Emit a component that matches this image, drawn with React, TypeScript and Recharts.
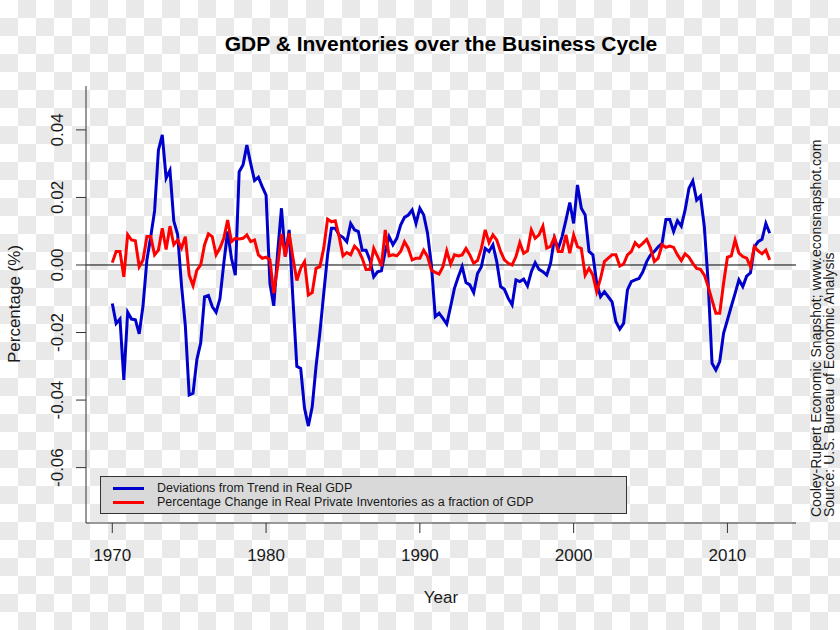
import { LineChart, Line, XAxis, YAxis, ReferenceLine, Legend } from 'recharts';

// quarterly series, 1970Q1 .. 2012Q4
const startYear = 1970;
const yearTicks = [1970, 1980, 1990, 2000, 2010];
const pctTicks = [-0.06, -0.04, -0.02, 0, 0.02, 0.04];

const gdpDeviation = [
  -0.0114, -0.0173, -0.016, -0.034, -0.014, -0.016, -0.0162, -0.0204,
  -0.012, 0.0015, 0.0084, 0.016, 0.034, 0.0385, 0.0257, 0.028,
  0.013, 0.009, -0.006, -0.018, -0.0385, -0.038, -0.028, -0.023,
  -0.0094, -0.009, -0.0123, -0.014, -0.01, 0.0005, 0.0099, 0.002,
  -0.003, 0.0276, 0.0296, 0.0355, 0.03, 0.025, 0.026, 0.0232,
  0.0207, -0.0054, -0.0121, 0.0035, 0.0168, 0.0025, 0.0104, -0.0104,
  -0.03, -0.0306, -0.0424, -0.0477, -0.042, -0.03, -0.02, -0.0084,
  0.003, 0.0109, 0.0109, 0.0089, 0.0082, 0.0069, 0.0123, 0.0104,
  0.0099, 0.0044, 0.0044, 0.0015, -0.0035, -0.002, -0.0017, 0.004,
  0.0084, 0.006, 0.0079, 0.0118, 0.0141, 0.0148, 0.0163, 0.0123,
  0.0168, 0.0148, 0.0094, 0.0, -0.0153, -0.0143, -0.0158, -0.0175,
  -0.0123, -0.0069, -0.0035, -0.0005, -0.0052, -0.0059, -0.0082, -0.0025,
  -0.0005, 0.0049, 0.004, 0.006, 0.001, -0.0064, -0.0072, -0.0099,
  -0.0118, -0.0044, -0.0049, -0.0042, -0.0062, -0.002, 0.0007, -0.0013,
  -0.002, -0.003, 0.0005, 0.0079, 0.0049, 0.0084, 0.0133, 0.0185,
  0.0123, 0.0237, 0.0168, 0.0148, 0.004, 0.003, -0.0054, -0.0094,
  -0.0079, -0.0094, -0.0109, -0.0168, -0.019, -0.0173, -0.0074, -0.0049,
  -0.0044, -0.004, -0.002, 0.001, 0.003, 0.004, 0.0054, 0.0064,
  0.0135, 0.0135, 0.0099, 0.0131, 0.0115, 0.0163, 0.0227, 0.0249,
  0.0192, 0.0204, 0.0113, -0.0054, -0.0291, -0.0311, -0.0286, -0.0202,
  -0.0163, -0.0123, -0.0084, -0.0044, -0.0064, -0.0033, -0.0023, 0.0054,
  0.0069, 0.0076, 0.0123, 0.0094,
];

const inventoryChange = [
  0.0007, 0.004, 0.004, -0.0035, 0.009, 0.0074, 0.0072, -0.0005,
  0.0015, 0.0084, 0.0084, 0.003, 0.0044, 0.0109, 0.0046, 0.0115,
  0.006, 0.0074, 0.005, 0.0084, -0.003, -0.0061, -0.0015, 0.0,
  0.006, 0.0092, 0.0084, 0.003, 0.005, 0.0079, 0.0133, 0.0069,
  0.0079, 0.0077, 0.0079, 0.0089, 0.0069, 0.0074, 0.003, 0.002,
  0.0023, 0.0015, -0.0084, -0.0005, 0.0092, 0.0025, 0.0094, 0.002,
  -0.0046, -0.001, 0.001, -0.0089, -0.0082, -0.001, -0.0005, 0.005,
  0.0136, 0.0128, 0.0131, 0.0084, 0.0027, 0.0037, 0.003, 0.0056,
  0.0044, 0.002, -0.0013, -0.0013, 0.0049, 0.0025, -0.0003, 0.0104,
  0.0027, 0.003, 0.0027, 0.004, 0.0069, 0.0049, 0.0015, 0.002,
  0.002, 0.0044, 0.0025, -0.0015, -0.0022, -0.0027, -0.0005, 0.0042,
  0.0003, 0.003, 0.0027, 0.003, 0.0049, 0.003, 0.0005, 0.0013,
  0.0049, 0.0104, 0.0066, 0.0089, 0.0074, 0.004, 0.0015, 0.0005,
  0.0, 0.0025, 0.0066, 0.0035, 0.0042, 0.0104, 0.0079, 0.0089,
  0.0115, 0.005, 0.0055, 0.0082, 0.004, 0.004, 0.0089, 0.0035,
  0.0089, 0.0054, 0.0049, -0.003, -0.001, -0.003, -0.0079, -0.004,
  0.001, 0.002, 0.003, 0.003, -0.0003, 0.0003, 0.003, 0.004,
  0.0066, 0.0054, 0.0064, 0.0076, 0.005, 0.001, 0.002, 0.006,
  0.0052, 0.0056, 0.0052, 0.003, 0.0013, 0.0033, 0.0023, 0.0005,
  -0.001, -0.0013, -0.003, -0.0064, -0.0104, -0.0143, -0.0143, -0.0054,
  0.0023, 0.0027, 0.0074, 0.0035, 0.0025, 0.002, -0.0005, 0.0054,
  0.0042, 0.0033, 0.0044, 0.0015,
];

const data = gdpDeviation.map((v, i) => ({
  year: startYear + i / 4,
  gdp: v,
  inv: inventoryChange[i],
}));

const FONT = '"Liberation Sans", Arial, Helvetica, sans-serif';
const INK = '#1a1a1a';

const YearTick = ({ x, y, payload }: any) => (
  <text x={x} y={y} dy={28} textAnchor="middle" fontSize={17} fontFamily={FONT} fill={INK}>
    {payload.value}
  </text>
);

const PctTick = ({ x, y, payload }: any) => {
  const tx = x - 13;
  return (
    <text x={tx} y={y} transform={`rotate(-90, ${tx}, ${y})`} textAnchor="middle" fontSize={17} fontFamily={FONT} fill={INK}>
      {Number(payload.value).toFixed(2)}
    </text>
  );
};

const LegendBox = ({ payload }: any) => (
  <div
    style={{
      width: 527,
      height: 38,
      boxSizing: 'border-box',
      background: '#d9d9d9',
      border: '1px solid #333',
      fontFamily: FONT,
      fontSize: 12.5,
      color: INK,
      paddingTop: 3.75,
    }}
  >
    {(payload || []).map((entry: any) => (
      <div key={entry.value} style={{ display: 'flex', alignItems: 'center', height: 14.5, lineHeight: '14.5px' }}>
        <div style={{ width: 31, height: 3, background: entry.color, marginLeft: 12, marginRight: 13 }} />
        <span>{entry.value}</span>
      </div>
    ))}
  </div>
);

export default function App() {
  return (
    <div
      style={{
        position: 'absolute',
        left: 0,
        top: 0,
        width: 840,
        height: 630,
        backgroundColor: '#fff',
        backgroundImage: 'repeating-conic-gradient(#e9e9e9 0% 25%, #ffffff 0% 50%)',
        backgroundSize: '36px 36px',
      }}
    >
      <LineChart width={840} height={630} data={data} margin={{ top: 86, right: 44, bottom: 57, left: 26 }}>
        <XAxis
          dataKey="year"
          type="number"
          domain={[1968.29, 2014.46]}
          ticks={yearTicks}
          interval={0}
          height={50}
          tickSize={10}
          tickMargin={0}
          tick={<YearTick />}
          stroke="#333"
          allowDataOverflow
        />
        <XAxis xAxisId="top" orientation="top" dataKey="year" type="number" domain={[1968.29, 2014.46]} height={0} tick={false} tickLine={false} stroke="#333" />
        <YAxis
          type="number"
          domain={[-0.0764, 0.053]}
          ticks={pctTicks}
          interval={0}
          width={60}
          tickSize={10}
          tickMargin={0}
          tick={<PctTick />}
          stroke="#333"
          allowDataOverflow
        />
        <YAxis yAxisId="right" orientation="right" domain={[-0.0764, 0.053]} width={0} tick={false} tickLine={false} stroke="#333" />
        <ReferenceLine y={0} stroke="#000" strokeWidth={1} />
        <Legend
          layout="horizontal"
          verticalAlign="middle"
          align="center"
          content={<LegendBox />}
          wrapperStyle={{ left: 100, top: 476, right: 'auto', bottom: 'auto', width: 527 }}
        />
        <Line
          type="linear"
          dataKey="gdp"
          name="Deviations from Trend in Real GDP"
          stroke="#0000cd"
          strokeWidth={3}
          dot={false}
          isAnimationActive={false}
        />
        <Line
          type="linear"
          dataKey="inv"
          name="Percentage Change in Real Private Inventories as a fraction of GDP"
          stroke="#ff0000"
          strokeWidth={3}
          dot={false}
          isAnimationActive={false}
        />
        <text x={441} y={51} textAnchor="middle" fontSize={21} fontWeight="bold" fontFamily={FONT} fill="#000">
          GDP &amp; Inventories over the Business Cycle
        </text>
        <text x={441} y={603} textAnchor="middle" fontSize={17} fontFamily={FONT} fill={INK}>
          Year
        </text>
        <text x={20} y={304} transform="rotate(-90, 20, 304)" textAnchor="middle" fontSize={17} fontFamily={FONT} fill={INK}>
          Percentage (%)
        </text>
        <text x={821} y={517} transform="rotate(-90, 821, 517)" textAnchor="start" fontSize={14} fontFamily={FONT} fill={INK}>
          Cooley-Rupert Economic Snapshot; www.econsnapshot.com
        </text>
        <text x={834} y={517} transform="rotate(-90, 834, 517)" textAnchor="start" fontSize={14} fontFamily={FONT} fill={INK}>
          Source: U.S. Bureau of Economic Analysis
        </text>
      </LineChart>
    </div>
  );
}
